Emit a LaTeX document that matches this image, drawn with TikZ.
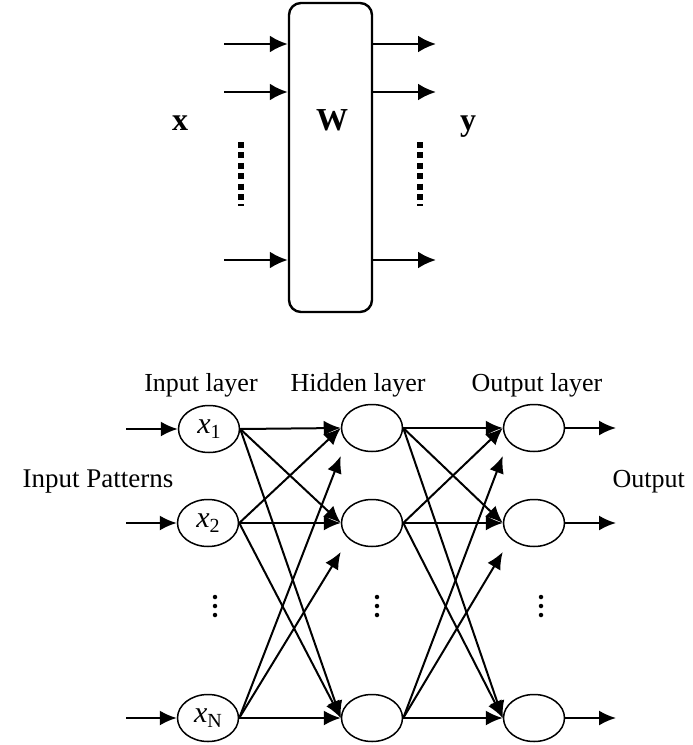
\documentclass[tikz,border=0pt]{standalone}
\usepackage{fontspec}
\setmainfont{Liberation Serif}
\usetikzlibrary{arrows.meta,shapes.geometric,calc}
\newcommand{\neur}[2]{{\itshape #1}\raisebox{-5pt}{\fontsize{20}{22}\selectfont #2}}
\begin{document}
\begin{tikzpicture}[x=1pt,y=-1pt,
  arr/.style={line width=2.6pt,-{Latex[length=18pt,width=17pt]}},
  narr/.style={line width=2pt,-{Latex[length=17pt,width=15pt]}},
  neuron/.style={draw,ellipse,line width=1.5pt,minimum width=61pt,minimum height=47pt,inner sep=0pt,font=\fontsize{30}{32}\selectfont},
  lbl/.style={font=\fontsize{26}{30}\selectfont,anchor=base},
  blbl/.style={font=\fontsize{32}{36}\selectfont\bfseries,anchor=base},
  dotline/.style={line width=6pt,dash pattern=on 6pt off 4.4pt},
  vdot/.style={fill,circle,inner sep=0pt,minimum size=4.5pt}]
\useasboundingbox (0,0) rectangle (693,745);

% ---------- top block ----------
\node[draw,line width=2.4pt,rounded corners=12pt,minimum width=83pt,minimum height=309pt] (box) at (330.5,157.5) {};
\node[blbl] (W) at (332,130) {W};
\node[blbl] (xl) at (180,130) {x};
\node[blbl] (yl) at (468,130) {y};

\coordinate (in1) at (224,44);
\coordinate (in2) at (224,92);
\coordinate (in3) at (224,260);
\coordinate (out1) at (436,44);
\coordinate (out2) at (436,92);
\coordinate (out3) at (436,260);
\foreach \k in {1,2,3}{
  \draw[arr] (in\k) -- (in\k -| box.west);
  \draw[arr] (out\k -| box.east) -- (out\k);
}
\coordinate (dla) at (241,142);
\coordinate (dlb) at (241,206);
\coordinate (dra) at (420,142);
\coordinate (drb) at (420,206);
\draw[dotline] (dla) -- (dlb);
\draw[dotline] (dra) -- (drb);

% ---------- bottom network ----------
\node[lbl] (il) at (201,391) {Input layer};
\node[lbl] (hl) at (358,391) {Hidden layer};
\node[lbl] (ol) at (537,391) {Output layer};
\node[lbl,anchor=base east,font=\fontsize{27}{30}\selectfont] (ip) at (177,487) {Input Patterns};
\node[lbl,anchor=base west] (op) at (609,487) {Output};

\node[neuron] (i1) at (209,429) {\neur{x}{1}};
\node[neuron] (i2) at (208,523) {\neur{x}{2}};
\node[neuron] (i3) at (208,718) {\neur{x}{N}};
\node[neuron] (h1) at (372,428) {};
\node[neuron] (h2) at (372,523) {};
\node[neuron] (h3) at (372,718) {};
\node[neuron] (o1) at (534,428) {};
\node[neuron] (o2) at (534,523) {};
\node[neuron] (o3) at (534,718) {};

\foreach \k/\yy in {1/429,2/523,3/718}{
  \coordinate (a\k) at (126,\yy);
  \draw[narr] (a\k) -- (i\k);
  \coordinate (b\k) at (616,\yy);
  \draw[narr] (o\k) -- (b\k |- o\k);
}

% input -> hidden
\draw[narr] (i1.east) -- (h1.west);
\draw[narr] (i1.east) -- (h2.west);
\draw[narr] (i1.east) -- (h3.west);
\draw[narr] (i2.east) -- (h1.west);
\draw[narr] (i2.east) -- (h2.west);
\draw[narr] (i2.east) -- (h3.west);
\draw[narr] (i3.east) -- ($(h1.west)+(0,28)$);
\draw[narr] (i3.east) -- ($(h2.west)+(0,29)$);
\draw[narr] (i3.east) -- (h3.west);
% hidden -> output
\draw[narr] (h1.east) -- (o1.west);
\draw[narr] (h1.east) -- (o2.west);
\draw[narr] (h1.east) -- (o3.west);
\draw[narr] (h2.east) -- (o1.west);
\draw[narr] (h2.east) -- (o2.west);
\draw[narr] (h2.east) -- (o3.west);
\draw[narr] (h3.east) -- ($(o1.west)+(0,28)$);
\draw[narr] (h3.east) -- ($(o2.west)+(0,29)$);
\draw[narr] (h3.east) -- (o3.west);

% vertical ellipses
\foreach \xx/\nm in {215/p,377/q,541/r}{
  \node[vdot] (\nm1) at (\xx,597) {};
  \node[vdot] (\nm2) at (\xx,606) {};
  \node[vdot] (\nm3) at (\xx,615) {};
}
\end{tikzpicture}
\end{document}
